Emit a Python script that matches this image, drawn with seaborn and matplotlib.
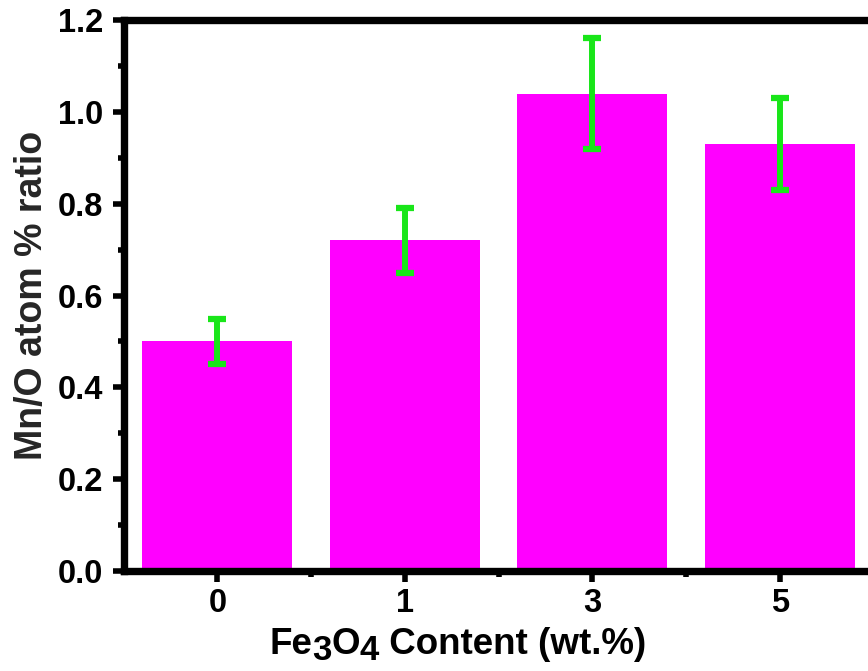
import matplotlib
matplotlib.use("Agg")
import matplotlib.pyplot as plt
import pandas as pd
import seaborn as sns
from matplotlib.ticker import FixedLocator, MultipleLocator, FormatStrFormatter

content = ["0", "1", "3", "5"]
ratio = [0.50, 0.72, 1.04, 0.93]
ratio_err = [0.05, 0.07, 0.12, 0.10]

sns.set_theme(style="ticks")
plt.rcParams["font.family"] = ["Liberation Sans", "DejaVu Sans"]
plt.rcParams["font.weight"] = "bold"

df = pd.DataFrame({"content": content, "ratio": ratio, "err": ratio_err})

fig = plt.figure(figsize=(8.68, 6.71), dpi=100)
ax = fig.add_axes([0.1425, 0.149, 0.864, 0.821])

sns.barplot(data=df, x="content", y="ratio", color="#ff00ff", saturation=1,
            width=0.8, errorbar=None, linewidth=0, ax=ax)
ax.errorbar(range(len(df)), df["ratio"], yerr=df["err"], fmt="none",
            ecolor="#19e619", elinewidth=4.3, capsize=6.5, capthick=4.5,
            solid_capstyle="round", zorder=5)

ax.set_xlim(-0.5, 3.5)
ax.set_ylim(0, 1.2)
ax.yaxis.set_major_locator(MultipleLocator(0.2))
ax.yaxis.set_minor_locator(MultipleLocator(0.1))
ax.xaxis.set_minor_locator(FixedLocator([0.5, 1.5, 2.5]))
ax.yaxis.set_major_formatter(FormatStrFormatter("%.1f"))

for side in ["left", "right", "top", "bottom"]:
    ax.spines[side].set_linewidth(5.3)
    ax.spines[side].set_color("black")

ax.tick_params(axis="both", which="major", direction="out", length=8, width=4,
               labelsize=23.5, color="black", labelcolor="black")
ax.tick_params(axis="both", which="minor", direction="out", length=4.5, width=4, color="black")
ax.tick_params(axis="y", which="major", pad=7)
ax.tick_params(axis="x", which="major", pad=4)
for lab in ax.get_xticklabels() + ax.get_yticklabels():
    lab.set_fontweight("bold")

ax.set_xlabel("")
ax.set_ylabel("Mn/O atom % ratio", fontsize=27, fontweight="bold")
ax.yaxis.set_label_coords(-0.098, 0.5)

# x label with full-size, lowered subscripts
size_main, size_sub, drop = 26.5, 25, -3.5
t = fig.text(269 / 868, 9 / 671, "Fe", fontsize=size_main, fontweight="bold",
             ha="left", va="bottom", color="black")
pieces = [("3", size_sub, drop), ("O", size_main, 0), ("4", size_sub, drop),
          (" Content (wt.%)", size_main, 0)]
prev_drop = 0
for txt, size, dy in pieces:
    t = ax.annotate(txt, xy=(1, 0), xycoords=t, xytext=(0, dy - prev_drop),
                    textcoords="offset points", fontsize=size, fontweight="bold",
                    ha="left", va="bottom", color="black", annotation_clip=False)
    prev_drop = dy

fig.savefig("out.png", dpi=100)
